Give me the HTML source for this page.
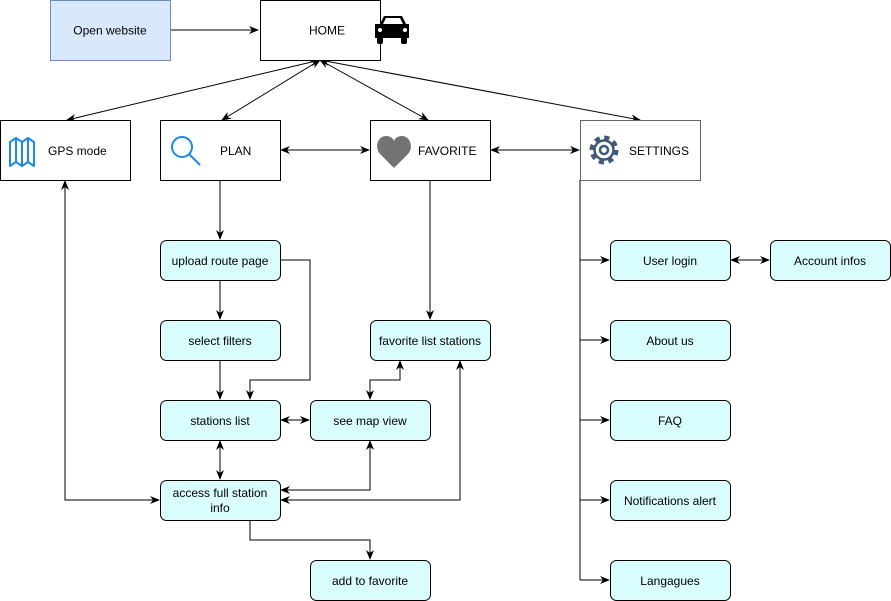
<!DOCTYPE html>
<html><head><meta charset="utf-8"><style>
body{margin:0;background:#fff;width:891px;height:601px;overflow:hidden}
svg{display:block}
text{font-family:"Liberation Sans",Arial,sans-serif;font-size:12px;fill:#000}
</style></head><body>
<svg width="891" height="601" viewBox="0 0 891 601" xmlns="http://www.w3.org/2000/svg">
<defs>
<marker id="a" viewBox="0 0 10 10" refX="9" refY="5" markerWidth="10" markerHeight="10" orient="auto-start-reverse" markerUnits="userSpaceOnUse">
<path d="M0,1 L10,5 L0,9 L3,5 Z" fill="#000"/></marker>
</defs>
<g fill="none" stroke="#000" stroke-width="1">
<path d="M170,30 H258" marker-end="url(#a)"/>
<path d="M320,60 L67,120" marker-start="url(#a)" marker-end="url(#a)"/>
<path d="M320,60 L222,120" marker-start="url(#a)" marker-end="url(#a)"/>
<path d="M320,60 L428,120" marker-start="url(#a)" marker-end="url(#a)"/>
<path d="M320,60 L640,120" marker-start="url(#a)" marker-end="url(#a)"/>
<path d="M281,150 H369" marker-start="url(#a)" marker-end="url(#a)"/>
<path d="M491,150 H579" marker-start="url(#a)" marker-end="url(#a)"/>
<path d="M220,180 V239" marker-end="url(#a)"/>
<path d="M220,280 V319" marker-end="url(#a)"/>
<path d="M220,360 V399" marker-end="url(#a)"/>
<path d="M280,260 H310 V380 H250 V399" marker-end="url(#a)"/>
<path d="M430,180 V319" marker-end="url(#a)"/>
<path d="M400,361 V380 H370 V399" marker-start="url(#a)" marker-end="url(#a)"/>
<path d="M281,420 H309" marker-start="url(#a)" marker-end="url(#a)"/>
<path d="M220,441 V479" marker-start="url(#a)" marker-end="url(#a)"/>
<path d="M370,441 V490 H281" marker-start="url(#a)" marker-end="url(#a)"/>
<path d="M460,361 V500 H281" marker-start="url(#a)" marker-end="url(#a)"/>
<path d="M65,181 V500 H159" marker-start="url(#a)" marker-end="url(#a)"/>
<path d="M250,520 V540 H370 V559" marker-end="url(#a)"/>
<path d="M580,180 V580"/>
<path d="M580,260 H609" marker-end="url(#a)"/>
<path d="M580,340 H609" marker-end="url(#a)"/>
<path d="M580,420 H609" marker-end="url(#a)"/>
<path d="M580,500 H609" marker-end="url(#a)"/>
<path d="M580,580 H609" marker-end="url(#a)"/>
<path d="M731,260 H769" marker-start="url(#a)" marker-end="url(#a)"/>
</g>
<rect x="50.5" y="0.5" width="120" height="60" fill="#dae8fc" stroke="#6c8ebf"/>
<text x="110" y="34.5" text-anchor="middle">Open website</text>
<g fill="#fff" stroke="#000">
<rect x="260.5" y="0.5" width="120" height="60"/>
<rect x="0.5" y="120.5" width="130" height="60"/>
<rect x="160.5" y="120.5" width="120" height="60"/>
<rect x="370.5" y="120.5" width="120" height="60"/>
<rect x="580.5" y="120.5" width="120" height="60" stroke="#666"/>
</g>
<text x="327" y="34.5" text-anchor="middle">HOME</text>
<text x="48" y="155">GPS mode</text>
<text x="220" y="155">PLAN</text>
<text x="418" y="155">FAVORITE</text>
<text x="629" y="155">SETTINGS</text>
<!-- car -->
<g fill="#000">
<path d="M380,24 L384,16 H402 L406,24 H409 V38 H375 V24 Z"/>
<rect x="377" y="36" width="6" height="8" rx="2"/><rect x="401" y="36" width="6" height="8" rx="2"/>
<path d="M386,18 H400 L403,24 H383 Z" fill="#fff"/>
<circle cx="380" cy="30" r="2" fill="#fff"/><circle cx="405" cy="30" r="2" fill="#fff"/>
</g>
<!-- map -->
<path d="M10,142 L16,138 L22,142 L28,138 L34,142 V166 L28,162 L22,166 L16,162 L10,166 Z M16,138 V162 M22,142 V166 M28,138 V162" fill="none" stroke="#1e88e5" stroke-width="2" stroke-linejoin="round"/>
<!-- search -->
<circle cx="182" cy="147" r="10" fill="none" stroke="#1e88e5" stroke-width="2"/>
<path d="M189,154 L200,165" stroke="#1e88e5" stroke-width="2"/>
<!-- heart -->
<path d="M394,168 L380,154 C374,147 378,136 386,136 C390,136 393,138 394,141 C395,138 398,136 402,136 C410,136 414,147 408,154 Z" fill="#737373"/>
<!-- gear -->
<g transform="translate(604,150)">
<circle r="12" fill="none" stroke="#3d5a78" stroke-width="5" stroke-dasharray="5 4.4"/>
<circle r="9.5" fill="none" stroke="#3d5a78" stroke-width="2.5"/>
<circle r="4" fill="none" stroke="#3d5a78" stroke-width="2.5"/>
</g>
<g fill="#d9fdfd" stroke="#000">
<rect x="160.5" y="240.5" width="120" height="40" rx="6"/>
<rect x="160.5" y="320.5" width="120" height="40" rx="6"/>
<rect x="160.5" y="400.5" width="120" height="40" rx="6"/>
<rect x="310.5" y="400.5" width="120" height="40" rx="6"/>
<rect x="160.5" y="480.5" width="120" height="40" rx="6"/>
<rect x="310.5" y="560.5" width="120" height="40" rx="6"/>
<rect x="370.5" y="320.5" width="120" height="40" rx="6"/>
<rect x="610.5" y="240.5" width="120" height="40" rx="6"/>
<rect x="770.5" y="240.5" width="120" height="40" rx="6"/>
<rect x="610.5" y="320.5" width="120" height="40" rx="6"/>
<rect x="610.5" y="400.5" width="120" height="40" rx="6"/>
<rect x="610.5" y="480.5" width="120" height="40" rx="6"/>
<rect x="610.5" y="560.5" width="120" height="40" rx="6"/>
</g>
<g text-anchor="middle">
<text x="220" y="265">upload route page</text>
<text x="220" y="345">select filters</text>
<text x="220" y="425">stations list</text>
<text x="370" y="425">see map view</text>
<text x="220" y="497">access full station</text>
<text x="220" y="512">info</text>
<text x="370" y="585">add to favorite</text>
<text x="430" y="345">favorite list stations</text>
<text x="670" y="265">User login</text>
<text x="830" y="265">Account infos</text>
<text x="670" y="345">About us</text>
<text x="670" y="425">FAQ</text>
<text x="670" y="505">Notifications alert</text>
<text x="670" y="585">Langagues</text>
</g>
</svg>
</body></html>
